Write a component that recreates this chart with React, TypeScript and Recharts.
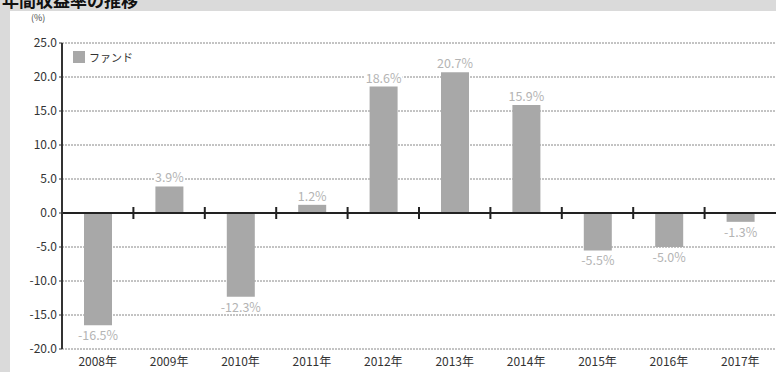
import { BarChart, Bar, XAxis, YAxis, CartesianGrid, ReferenceLine, LabelList, Legend } from 'recharts'

const years = ['2008年', '2009年', '2010年', '2011年', '2012年', '2013年', '2014年', '2015年', '2016年', '2017年']
const fundReturns = [-16.5, 3.9, -12.3, 1.2, 18.6, 20.7, 15.9, -5.5, -5.0, -1.3]
const yTicks = [-20, -15, -10, -5, 0, 5, 10, 15, 20, 25]

const data = years.map((year, i) => ({ year, fund: fundReturns[i] }))

const FONT = '"Noto Sans CJK JP", "Noto Sans", sans-serif'

// zero line with small ticks at category boundaries
function ZeroLine(props: any) {
  const { x1, x2, y1 } = props
  const n = years.length
  const step = (x2 - x1) / n
  const ticks = []
  for (let k = 1; k < n; k++) {
    const x = x1 + step * k
    ticks.push(<line key={k} x1={x} x2={x} y1={y1 - 6} y2={y1 + 6} stroke="#222" strokeWidth={2} />)
  }
  return (
    <g>
      <line x1={x1} x2={x2} y1={y1} y2={y1} stroke="#222" strokeWidth={2} />
      {ticks}
    </g>
  )
}

function ValueLabel(props: any) {
  const { x, y, width, height, value } = props
  const neg = value < 0
  const cx = x + width / 2
  const text = `${value.toFixed(1)}%`
  const top = Math.min(y, y + height)
  const bottom = Math.max(y, y + height)
  const ty = neg ? bottom + 15 : top - 4
  const w = text.length * 7.2 + 2
  return (
    <g>
      <rect x={cx - w / 2} y={ty - 12} width={w} height={14} fill="#fff" />
      <text x={cx} y={ty} textAnchor="middle" fill="#b4b4b4" fontSize={12.5} fontFamily={FONT}>
        {text}
      </text>
    </g>
  )
}

function LegendBox() {
  return (
    <div style={{ display: 'flex', alignItems: 'center', fontFamily: FONT, fontSize: 11, color: '#333' }}>
      <span style={{ width: 12, height: 12, background: '#a8a8a8', display: 'inline-block', marginRight: 4 }} />
      ファンド
    </div>
  )
}

export default function App() {
  return (
    <div style={{ position: 'absolute', top: 0, left: 0, width: 776, height: 372, background: '#dadada', overflow: 'hidden' }}>
      <div style={{ position: 'absolute', top: -9, left: 2, fontFamily: FONT, fontSize: 17, fontWeight: 700, color: '#111', lineHeight: '17px', whiteSpace: 'nowrap' }}>
        年間収益率の推移
      </div>
      <div style={{ position: 'absolute', top: 11, left: 10, width: 766, height: 361, background: '#fff' }} />
      <div style={{ position: 'absolute', top: 11, left: 31, fontFamily: FONT, fontSize: 9, color: '#444' }}>(%)</div>
      <div style={{ position: 'absolute', top: 0, left: 0 }}>
        <BarChart width={776} height={372} data={data} margin={{ top: 43, right: 0, bottom: 0, left: 0 }} barSize={28}>
          <CartesianGrid vertical={false} stroke="#888" strokeDasharray="2 1" />
          <XAxis
            dataKey="year"
            axisLine={false}
            tickLine={false}
            height={23}
            interval={0}
            tick={{ fontSize: 12, fill: '#333', fontFamily: FONT }}
            tickMargin={2}
          />
          <YAxis
            domain={[-20, 25]}
            ticks={yTicks}
            width={62}
            axisLine={{ stroke: '#333', strokeWidth: 2 }}
            tickLine={{ stroke: '#333' }}
            tickSize={3}
            tickFormatter={(v: number) => v.toFixed(1)}
            tick={{ fontSize: 12, fill: '#333', fontFamily: FONT }}
          />
          <Legend
            layout="vertical"
            align="center"
            verticalAlign="middle"
            wrapperStyle={{ top: 49, left: 73, width: 'auto' }}
            content={() => <LegendBox />}
          />
          <Bar dataKey="fund" name="ファンド" fill="#a8a8a8" isAnimationActive={false}>
            <LabelList dataKey="fund" content={<ValueLabel />} />
          </Bar>
          <ReferenceLine y={0} shape={<ZeroLine />} />
        </BarChart>
      </div>
    </div>
  )
}
